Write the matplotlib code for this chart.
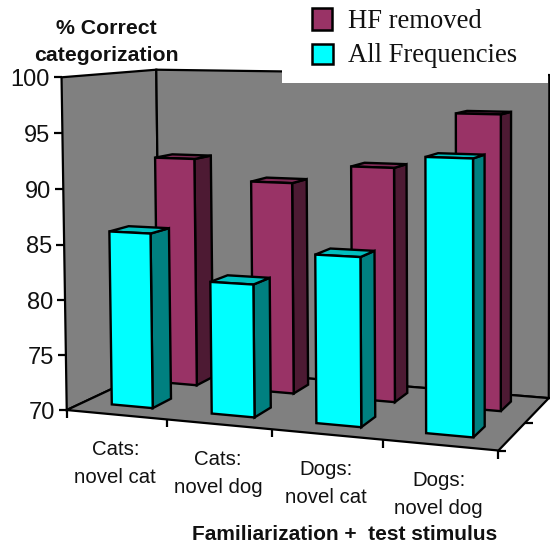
import numpy as np
import matplotlib
matplotlib.use("Agg")
import matplotlib.pyplot as plt
from matplotlib.patches import Polygon, Rectangle

plt.rcParams['font.family'] = ['Liberation Sans', 'DejaVu Sans']

categorias = ["Cats:\nnovel cat", "Cats:\nnovel dog", "Dogs:\nnovel cat", "Dogs:\nnovel dog"]
hf_removed = [91.8, 89.85, 91.6, 96.7]
all_freq = [85.9, 81.85, 84.8, 93.6]
y_ticks = [70, 75, 80, 85, 90, 95, 100]
y_min = 70
y_max = 100

# calibracion de la caja 3D: (categoria, profundidad, fraccion de y) -> pixel
caja_3d = [(0, 0, 0), (1, 0, 0), (2, 0, 0), (3, 0, 0), (4, 0, 0), (4, 0.5, 0), (4, 1, 0),
           (0, 1, 0), (0, 0, 1), (0, 1, 1), (4, 1, 1)]
caja_px = [(68, 410), (168, 420), (272, 429), (382, 440), (498, 450), (526, 423), (549, 398),
           (158, 366), (60, 77), (158, 70), (549, 75)]


def ajustar_camara(puntos, pixeles):
    filas = []
    for (x, z, y), (u, v) in zip(puntos, pixeles):
        filas.append([x, z, y, 1, 0, 0, 0, 0, -u * x, -u * z, -u * y, -u])
        filas.append([0, 0, 0, 0, x, z, y, 1, -v * x, -v * z, -v * y, -v])
    _, _, vt = np.linalg.svd(np.array(filas, dtype=float))
    return vt[-1].reshape(3, 4)


P = ajustar_camara(caja_3d, caja_px)


def proyectar(x, z, valor):
    frac = (valor - y_min) / (y_max - y_min)
    h = P @ np.array([x, z, frac, 1.0])
    return h[0] / h[2], h[1] / h[2]


def dibujar_barra(ax, i, z0, z1, valor, color, lateral, tapa, orden):
    x0, x1 = i + 0.285, i + 0.70
    frente = [proyectar(x0, z0, y_min), proyectar(x1, z0, y_min),
              proyectar(x1, z0, valor), proyectar(x0, z0, valor)]
    lado = [proyectar(x1, z0, y_min), proyectar(x1, z1, y_min),
            proyectar(x1, z1, valor), proyectar(x1, z0, valor)]
    arriba = [proyectar(x0, z0, valor), proyectar(x1, z0, valor),
              proyectar(x1, z1, valor), proyectar(x0, z1, valor)]
    for cara, c in ((lado, lateral), (arriba, tapa), (frente, color)):
        ax.add_patch(Polygon(cara, closed=True, facecolor=c, edgecolor='black',
                             linewidth=1.7, joinstyle='miter', zorder=orden))


def generar_grafico():
    fig = plt.figure(figsize=(5.5, 5.45), dpi=100)
    ax = fig.add_axes([0, 0, 1, 1])
    ax.set_xlim(0, 550)
    ax.set_ylim(545, 0)
    ax.axis('off')

    gris = '#808080'
    # paredes y suelo
    ax.add_patch(Polygon([proyectar(0, 0, y_min), proyectar(0, 1, y_min), proyectar(0, 1, y_max), proyectar(0, 0, y_max)],
                         facecolor=gris, edgecolor='black', linewidth=1.6, zorder=1))
    ax.add_patch(Polygon([proyectar(0, 1, y_min), proyectar(4, 1, y_min), proyectar(4, 1, y_max), proyectar(0, 1, y_max)],
                         facecolor=gris, edgecolor='black', linewidth=1.6, zorder=1))
    ax.add_patch(Polygon([proyectar(0, 0, y_min), proyectar(4, 0, y_min), proyectar(4, 1, y_min), proyectar(0, 1, y_min)],
                         facecolor=gris, edgecolor='black', linewidth=1.6, zorder=2))

    # marcas y etiquetas del eje y
    for v in y_ticks:
        px, py = proyectar(0, 0, v)
        ax.plot([px - 8, px], [py, py], color='black', lw=1.6, zorder=3, solid_capstyle='butt')
        ax.text(px - 12, py + 2.5, str(v), ha='right', va='center', fontsize=17, color='#111111')

    # marcas y etiquetas de categorias
    for i in range(5):
        px, py = proyectar(i, 0, y_min)
        ax.plot([px, px], [py, py + 8], color='black', lw=1.6, zorder=3, solid_capstyle='butt')
    for i, cat in enumerate(categorias):
        px, py = proyectar(i + 0.5, 0, y_min)
        ax.text(px - 1, py + 49, cat, ha='center', va='center', fontsize=14.7,
                linespacing=1.6, color='#111111')

    # marcas de profundidad
    for z in [0, 0.5, 1]:
        px, py = proyectar(4, z, y_min)
        ax.plot([px, px + 8], [py, py], color='black', lw=1.6, zorder=3, solid_capstyle='butt')

    # barras, primero la fila de atras
    for i, v in enumerate(hf_removed):
        dibujar_barra(ax, i, 0.67, 0.87, v, '#993366', '#4D1A33', '#7F2A55', 4 + i * 0.01)
    for i, v in enumerate(all_freq):
        dibujar_barra(ax, i, 0.17, 0.37, v, '#00FFFF', '#008080', '#00BFBF', 5 + i * 0.01)

    # leyenda tapando la parte de arriba
    ax.add_patch(Rectangle((282, 0), 266, 83, facecolor='white', edgecolor='none', zorder=6))
    ax.add_patch(Rectangle((312, 8), 20, 22, facecolor='#993366', edgecolor='black', linewidth=1.8, zorder=7))
    ax.add_patch(Rectangle((312, 44), 21, 20, facecolor='#00FFFF', edgecolor='black', linewidth=1.8, zorder=7))
    ax.text(348, 22, "HF removed", family='Liberation Serif', fontsize=19.2, va='center', ha='left', color='#111111', zorder=7)
    ax.text(348, 56, "All Frequencies", family='Liberation Serif', fontsize=19.2, va='center', ha='left', color='#111111', zorder=7)

    # titulos de los ejes
    ax.text(106, 42, "% Correct\ncategorization", ha='center', va='center', fontsize=15.3,
            fontweight='bold', linespacing=1.54, color='#111111')
    ax.text(344.5, 535, "Familiarization +  test stimulus", ha='center', va='center', fontsize=15,
            fontweight='bold', color='#111111')

    fig.savefig("out.png", dpi=100)
    plt.close(fig)


def main():
    generar_grafico()


if __name__ == "__main__":
    main()
